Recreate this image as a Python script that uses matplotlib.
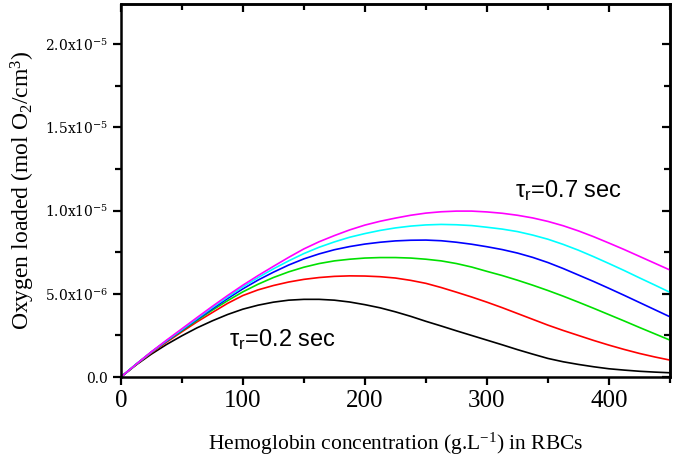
import matplotlib
matplotlib.use("Agg")
import matplotlib.pyplot as plt
from matplotlib.ticker import MultipleLocator, FixedLocator

plt.rcParams['mathtext.fontset'] = 'custom'
plt.rcParams['mathtext.rm'] = 'Liberation Serif'
plt.rcParams['mathtext.it'] = 'Liberation Serif:italic'
plt.rcParams['mathtext.sf'] = 'Liberation Sans'

# Hemoglobin concentration (g/L)
hb = [0, 12.5, 25, 37.5, 50, 62.5, 75, 87.5, 100, 112.5, 125, 137.5, 150, 162.5,
      175, 187.5, 200, 212.5, 225, 237.5, 250, 262.5, 275, 287.5, 300, 312.5,
      325, 337.5, 350, 362.5, 375, 387.5, 400, 412.5, 425, 437.5, 450]

# Oxygen loaded (x1e-6 mol O2/cm3) for tau_r = 0.2 ... 0.7 s
o2_t02 = [0, 0.73, 1.38, 1.96, 2.48, 2.96, 3.38, 3.76, 4.08, 4.32, 4.50, 4.62, 4.67,
          4.67, 4.62, 4.51, 4.35, 4.16, 3.92, 3.65, 3.35, 3.07, 2.78, 2.50, 2.22,
          1.94, 1.65, 1.38, 1.12, 0.92, 0.76, 0.62, 0.50, 0.42, 0.35, 0.30, 0.26]
o2_t03 = [0, 0.75, 1.45, 2.10, 2.72, 3.32, 3.88, 4.43, 4.90, 5.24, 5.50, 5.71, 5.87,
          5.98, 6.05, 6.08, 6.07, 6.03, 5.95, 5.81, 5.63, 5.38, 5.10, 4.81, 4.50,
          4.17, 3.82, 3.47, 3.12, 2.80, 2.50, 2.20, 1.92, 1.66, 1.42, 1.21, 1.02]
o2_t04 = [0, 0.77, 1.50, 2.16, 2.78, 3.41, 4.02, 4.59, 5.12, 5.58, 5.98, 6.32, 6.60,
          6.82, 6.98, 7.08, 7.15, 7.18, 7.18, 7.15, 7.08, 6.98, 6.82, 6.61, 6.35,
          6.10, 5.82, 5.52, 5.20, 4.86, 4.50, 4.13, 3.75, 3.37, 2.98, 2.60, 2.22]
o2_t05 = [0, 0.77, 1.50, 2.17, 2.82, 3.47, 4.10, 4.72, 5.30, 5.83, 6.30, 6.73, 7.10,
          7.40, 7.65, 7.84, 7.99, 8.10, 8.18, 8.22, 8.23, 8.19, 8.10, 7.98, 7.83,
          7.66, 7.45, 7.19, 6.88, 6.52, 6.13, 5.74, 5.33, 4.91, 4.48, 4.05, 3.62]
o2_t06 = [0, 0.77, 1.50, 2.19, 2.85, 3.52, 4.18, 4.81, 5.42, 5.98, 6.50, 6.98, 7.42,
          7.80, 8.12, 8.40, 8.62, 8.81, 8.96, 9.07, 9.14, 9.17, 9.15, 9.10, 9.00,
          8.89, 8.74, 8.53, 8.28, 7.97, 7.62, 7.23, 6.82, 6.40, 5.96, 5.53, 5.09]
o2_t07 = [0, 0.77, 1.52, 2.22, 2.90, 3.58, 4.25, 4.90, 5.52, 6.10, 6.65, 7.19, 7.70,
          8.13, 8.50, 8.84, 9.13, 9.36, 9.55, 9.72, 9.85, 9.93, 9.97, 9.97, 9.92,
          9.84, 9.72, 9.56, 9.35, 9.09, 8.78, 8.43, 8.05, 7.66, 7.25, 6.84, 6.43]

series = [o2_t02, o2_t03, o2_t04, o2_t05, o2_t06, o2_t07]
colors = ['#000000', '#ff0000', '#00e000', '#0000ff', '#00ffff', '#ff00ff']

yticks = [0.0, 5e-6, 1e-5, 1.5e-5, 2e-5]
ytick_labels = ['0.0', '5.0x10$^{\\mathregular{-6}}$', '1.0x10$^{\\mathregular{-5}}$',
                '1.5x10$^{\\mathregular{-5}}$', '2.0x10$^{\\mathregular{-5}}$']
xticks = [0, 100, 200, 300, 400]

fig = plt.figure(figsize=(6.75, 4.61), dpi=100)
ax = fig.add_axes([0.179, 0.182, 0.8136, 0.809])

for s, c in zip(series, colors):
    ax.plot(hb, [v * 1e-6 for v in s], color=c, lw=1.2)

ax.set_xlim(0, 450)
ax.set_ylim(0, 2.24e-5)

ax.xaxis.set_major_locator(FixedLocator(xticks))
ax.xaxis.set_minor_locator(MultipleLocator(50))
ax.yaxis.set_major_locator(FixedLocator(yticks))
ax.yaxis.set_minor_locator(MultipleLocator(2.5e-6))
ax.set_yticklabels(ytick_labels, family='DejaVu Serif', fontsize=10)
ax.set_xticklabels([str(x) for x in xticks], family='Liberation Serif', fontsize=18)

for sp in ax.spines.values():
    sp.set_linewidth(1.8)

ax.tick_params(which='both', bottom=True, left=True, top=False, right=False, direction='out', width=1.6)
ax.tick_params(which='major', length=6)
ax.tick_params(which='minor', length=4)
ax.tick_params(axis='x', pad=3)
ax.tick_params(axis='y', pad=3)

# inward ticks on top and right
ax_t = ax.secondary_xaxis('top')
ax_t.xaxis.set_major_locator(FixedLocator(xticks))
ax_t.xaxis.set_minor_locator(MultipleLocator(50))
ax_t.tick_params(which='both', direction='in', width=1.6, labeltop=False)
ax_t.tick_params(which='major', length=6)
ax_t.tick_params(which='minor', length=4)
ax_t.spines['top'].set_linewidth(1.8)
ax_r = ax.secondary_yaxis('right')
ax_r.yaxis.set_major_locator(FixedLocator(yticks))
ax_r.yaxis.set_minor_locator(MultipleLocator(2.5e-6))
ax_r.tick_params(which='both', direction='in', width=1.6, labelright=False)
ax_r.tick_params(which='major', length=6)
ax_r.tick_params(which='minor', length=4)
ax_r.spines['right'].set_linewidth(1.8)

ax.set_xlabel('Hemoglobin concentration (g.L$^{\\mathregular{-1}}$) in RBCs',
              family='Liberation Serif', fontsize=15.5, labelpad=14)
ax.set_ylabel('Oxygen loaded (mol O$_{\\mathregular{2}}$/cm$^{\\mathregular{3}}$)',
              family='Liberation Serif', fontsize=17, labelpad=6)

ax.text(323, 10.8e-6, 'τ$_{\\mathsf{r}}$=0.7 sec', family='Liberation Sans', fontsize=17)
ax.text(89, 1.8e-6, 'τ$_{\\mathsf{r}}$=0.2 sec', family='Liberation Sans', fontsize=17)

fig.savefig('out.png', dpi=100)
